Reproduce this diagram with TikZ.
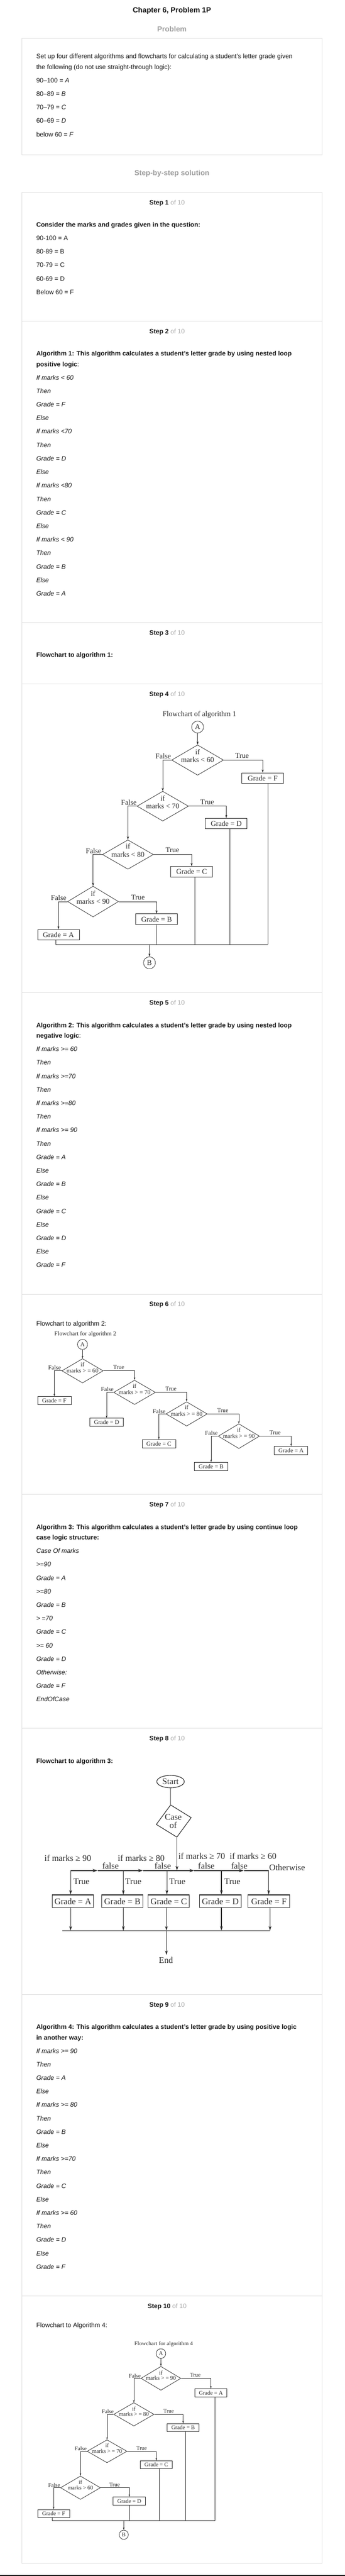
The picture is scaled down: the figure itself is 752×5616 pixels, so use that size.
\documentclass[tikz,border=0pt]{standalone}
\usepackage{fontspec}
\setmainfont{Liberation Sans}
\newfontfamily\chartserif{Liberation Serif}
\usetikzlibrary{arrows.meta,shapes.geometric,calc}
\definecolor{bord}{HTML}{DDDDDD}
\definecolor{headgray}{HTML}{9E9E9E}
\definecolor{ofgray}{HTML}{AAAAAA}
\definecolor{ink}{HTML}{161616}
\definecolor{chartink}{HTML}{2A2A2A}
\begin{document}
\begin{tikzpicture}[x=1pt,y=-1pt,
  txt/.style={anchor=base west, inner sep=0pt, text=ink, font=\fontsize{14}{17}\selectfont},
  itl/.style={txt, font=\fontsize{14}{17}\selectfont\itshape},
  bld/.style={txt, font=\fontsize{14}{17}\selectfont\bfseries},
  head/.style={anchor=base, inner sep=0pt, font=\fontsize{16}{19}\selectfont\bfseries},
  steptitle/.style={anchor=base, inner sep=0pt, text=ink, font=\fontsize{14}{17}\selectfont},
  frame/.style={draw=bord, line width=1pt},
  dia/.style={draw=chartink, shape=diamond, inner sep=0pt, line width=0.9pt},
  conn/.style={draw=chartink, shape=circle, inner sep=0pt, line width=0.9pt, text=chartink},
  c1t/.style={anchor=base, inner sep=0pt, text=chartink, font=\chartserif\fontsize{16}{18}\selectfont},
  c2t/.style={anchor=base, inner sep=0pt, text=chartink, font=\chartserif\fontsize{13}{15}\selectfont},
  c3t/.style={anchor=base, inner sep=0pt, text=chartink, font=\chartserif\fontsize{19}{21}\selectfont},
  c4t/.style={anchor=base, inner sep=0pt, text=chartink, font=\chartserif\fontsize{12.3}{14}\selectfont},
  box1/.style={draw=chartink, line width=1.1pt, inner sep=0pt, minimum width=91pt, minimum height=23pt, text=chartink, font=\chartserif\fontsize{16}{18}\selectfont},
  box2/.style={draw=chartink, line width=1pt, inner sep=0pt, minimum width=73pt, minimum height=18pt, text=chartink, font=\chartserif\fontsize{13}{15}\selectfont},
  box3/.style={draw=chartink, line width=1.3pt, inner sep=0pt, minimum width=90pt, minimum height=28pt, text=chartink, font=\chartserif\fontsize{19}{21}\selectfont},
  box4/.style={draw=chartink, line width=1pt, inner sep=0pt, minimum width=70pt, minimum height=17pt, text=chartink, font=\chartserif\fontsize{12.3}{14}\selectfont},
  flow1/.style={draw=chartink, line width=0.9pt},
  flow2/.style={draw=chartink, line width=0.8pt},
  flow3/.style={draw=chartink, line width=1.2pt},
  flow4/.style={draw=chartink, line width=0.8pt},
  thick3/.style={draw=chartink, line width=2.2pt},
  arr1/.style={flow1, -{Stealth[length=7pt, width=4.5pt]}},
  arr2/.style={flow2, -{Stealth[length=5.5pt, width=3.5pt]}},
  arr3/.style={flow3, -{Stealth[length=10pt, width=6pt]}},
  arr3h/.style={thick3, -{Stealth[length=11pt, width=7pt]}},
  arr4/.style={flow4, -{Stealth[length=5.5pt, width=3.5pt]}}
]
\useasboundingbox (0,0) rectangle (752,5616);
\fill[white] (0,0) rectangle (752,5616);
\fill[black] (0,5614) rectangle (752,5616);

% ---------------- header ----------------
\node[head, text=ink] (title) at (375,28) {Chapter 6, Problem 1P};
\node[head, text=headgray] (probhead) at (375,69) {Problem};
\draw[frame] (48,84) rectangle (703,337);
\node[txt] (p1) at (79,128) {Set up four different algorithms and flowcharts for calculating a student’s letter grade given};
\node[txt] (p2) at (79,151) {the following (do not use straight-through logic):};
\node[txt] (p3) at (79,180) {90–100 = \textit{A}};
\node[txt] (p4) at (79,209) {80–89 = \textit{B}};
\node[txt] (p5) at (79,239) {70–79 = \textit{C}};
\node[txt] (p6) at (79,268) {60–69 = \textit{D}};
\node[txt] (p7) at (79,298) {below 60 = \textit{F}};
\node[head, text=headgray] (sbs) at (375,383) {Step-by-step solution};

% ---------------- steps frame ----------------
\draw[frame] (48,419) rectangle (703,5588);
\foreach \yy in {700,1357,1491,2164,2822,3258,3768,4348,5005}
  \draw[frame] (48,\yy) -- (703,\yy);
\foreach \n/\yy in {1/446,2/727,3/1384,4/1518,5/2191,6/2848,7/3285,8/3795,9/4375,10/5032}
  \node[steptitle] (st\n) at (364.5,\yy) {\textbf{Step \n} \textcolor{ofgray}{of 10}};

% step 1
\node[bld] (s1h) at (79,495) {Consider the marks and grades given in the question:};
\foreach \t [count=\i from 0] in {90-100 = A, 80-89 = B, 70-79 = C, 60-69 = D, Below 60 = F}
  \node[txt] (s1l\i) at (79,{524+29.43*\i}) {\t};

% step 2
\node[bld] (s2h1) at (79,776) {Algorithm 1: This algorithm calculates a student’s letter grade by using nested loop};
\node[txt] (s2h2) at (79,799) {\textbf{positive logic}:};
\foreach \t [count=\i from 0] in {If marks < 60, Then, Grade = F, Else, If marks <70, Then, Grade = D, Else, If marks <80, Then, Grade = C, Else, If marks < 90, Then, Grade = B, Else, Grade = A}
  \node[itl] (a1l\i) at (79,{828+29.43*\i}) {\t};

% step 3
\node[bld] (s3h) at (79,1433) {Flowchart to algorithm 1:};

% ---------------- step 4: flowchart 1 ----------------
\node[c1t] (c1title) at (435,1562) {Flowchart of algorithm 1};
\node[conn, minimum size=26pt, font=\chartserif\fontsize{16}{18}\selectfont] (c1A) at (431,1585) {A};
\node[dia, minimum width=113pt, minimum height=66pt] (c1d1) at (431,1657) {};
\node[c1t] (c1d1a) at ([yshift=12pt]c1d1.center) {if};
\node[c1t] (c1d1b) at ([yshift=-5pt]c1d1.center) {marks < 60};
\node[c1t] (c1d1f) at (356,1654) {False};
\node[c1t] (c1d1t) at (528,1653) {True};
\node[box1] (c1bF) at (573,1696.5) {Grade = F};

\node[dia, minimum width=112pt, minimum height=65pt] (c1d2) at (355,1757.5) {};
\node[c1t] (c1d2a) at ([yshift=12pt]c1d2.center) {if};
\node[c1t] (c1d2b) at ([yshift=-5pt]c1d2.center) {marks < 70};
\node[c1t] (c1d2f) at (281,1755) {False};
\node[c1t] (c1d2t) at (452,1754) {True};
\node[box1] (c1bD) at (493.5,1795.5) {Grade = D};

\node[dia, minimum width=111pt, minimum height=64pt] (c1d3) at (279,1863) {};
\node[c1t] (c1d3a) at ([yshift=12pt]c1d3.center) {if};
\node[c1t] (c1d3b) at ([yshift=-5pt]c1d3.center) {marks < 80};
\node[c1t] (c1d3f) at (204,1860) {False};
\node[c1t] (c1d3t) at (376,1858) {True};
\node[box1] (c1bC) at (418,1900.5) {Grade = C};

\node[dia, minimum width=111pt, minimum height=67pt] (c1d4) at (203,1965.5) {};
\node[c1t] (c1d4a) at ([yshift=12pt]c1d4.center) {if};
\node[c1t] (c1d4b) at ([yshift=-5pt]c1d4.center) {marks < 90};
\node[c1t] (c1d4f) at (128,1963) {False};
\node[c1t] (c1d4t) at (301,1962) {True};
\node[box1] (c1bB) at (341.5,2004) {Grade = B};
\node[box1] (c1bA) at (127.5,2038) {Grade = A};

\node[conn, minimum size=26pt, font=\chartserif\fontsize{16}{18}\selectfont] (c1B) at (326,2099) {B};

\draw[arr1] (c1A) -- (c1d1);
\draw[arr1] (c1d1.west) -| (c1d2.north);
\draw[arr1] (c1d1.east) -| (c1bF.north);
\draw[arr1] (c1d2.west) -| (c1d3.north);
\draw[arr1] (c1d2.east) -| (c1bD.north);
\draw[arr1] (c1d3.west) -| (c1d4.north);
\draw[arr1] (c1d3.east) -| (c1bC.north);
\draw[arr1] (c1d4.west) -| (c1bA.north);
\draw[arr1] (c1d4.east) -| (c1bB.north);

\coordinate (c1mA) at (122,2059);
\coordinate (c1mB) at (341,2059);
\coordinate (c1mC) at (425,2059);
\coordinate (c1mD) at (501,2059);
\coordinate (c1mF) at (584,2059);
\coordinate (c1mid) at (326,2059);
\draw[flow1] (c1bA.south -| c1mA) -- (c1mA) -- (c1mF);
\draw[flow1] (c1bB.south -| c1mB) -- (c1mB);
\draw[flow1] (c1bC.south -| c1mC) -- (c1mC);
\draw[flow1] (c1bD.south -| c1mD) -- (c1mD);
\draw[flow1] (c1bF.south -| c1mF) -- (c1mF);
\draw[arr1] (c1mid) -- (c1B);

% step 5
\node[bld] (s5h1) at (79,2240) {Algorithm 2: This algorithm calculates a student’s letter grade by using nested loop};
\node[txt] (s5h2) at (79,2263) {\textbf{negative logic}:};
\foreach \t [count=\i from 0] in {If marks >= 60, Then, If marks >=70, Then, If marks >=80, Then, If marks >= 90, Then, Grade = A, Else, Grade = B, Else, Grade = C, Else, Grade = D, Else, Grade = F}
  \node[itl] (a2l\i) at (79,{2292+29.43*\i}) {\t};

% ---------------- step 6: flowchart 2 ----------------
\node[txt] (s6h) at (79,2890) {Flowchart to algorithm 2:};
\node[c2t] (c2title) at (186,2912) {Flowchart for algorithm 2};
\node[conn, minimum size=22pt, font=\chartserif\fontsize{13}{15}\selectfont] (c2A) at (180,2931) {A};

\node[dia, minimum width=90pt, minimum height=53pt] (c2d1) at (180,2988.5) {};
\node[c2t] (c2d1a) at ([yshift=9.5pt]c2d1.center) {if};
\node[c2t] (c2d1b) at ([yshift=-4.5pt]c2d1.center) {marks > = 60};
\node[c2t] (c2d1f) at (119,2986) {False};
\node[c2t] (c2d1t) at (259,2985) {True};
\node[box2] (c2bF) at (118.5,3053.5) {Grade = F};

\node[dia, minimum width=91pt, minimum height=53pt] (c2d2) at (293.5,3035.5) {};
\node[c2t] (c2d2a) at ([yshift=9.5pt]c2d2.center) {if};
\node[c2t] (c2d2b) at ([yshift=-4.5pt]c2d2.center) {marks > = 70};
\node[c2t] (c2d2f) at (234,3033) {False};
\node[c2t] (c2d2t) at (373,3032) {True};
\node[box2] (c2bD) at (232.5,3101) {Grade = D};

\node[dia, minimum width=90pt, minimum height=53pt] (c2d3) at (407,3082.5) {};
\node[c2t] (c2d3a) at ([yshift=9.5pt]c2d3.center) {if};
\node[c2t] (c2d3b) at ([yshift=-4.5pt]c2d3.center) {marks > = 80};
\node[c2t] (c2d3f) at (347,3081) {False};
\node[c2t] (c2d3t) at (486,3079) {True};
\node[box2] (c2bC) at (346.5,3147.5) {Grade = C};

\node[dia, minimum width=90pt, minimum height=54pt] (c2d4) at (521,3131) {};
\node[c2t] (c2d4a) at ([yshift=9.5pt]c2d4.center) {if};
\node[c2t] (c2d4b) at ([yshift=-4.5pt]c2d4.center) {marks > = 90};
\node[c2t] (c2d4f) at (461,3129) {False};
\node[c2t] (c2d4t) at (600,3128) {True};
\node[box2] (c2bB) at (460.5,3197) {Grade = B};
\node[box2] (c2bA) at (635,3162.5) {Grade = A};

\draw[arr2] (c2A) -- (c2d1);
\draw[arr2] (c2d1.west) -| (c2bF.north);
\draw[arr2] (c2d1.east) -| (c2d2.north);
\draw[arr2] (c2d2.west) -| (c2bD.north);
\draw[arr2] (c2d2.east) -| (c2d3.north);
\draw[arr2] (c2d3.west) -| (c2bC.north);
\draw[arr2] (c2d3.east) -| (c2d4.north);
\draw[arr2] (c2d4.west) -| (c2bB.north);
\draw[arr2] (c2d4.east) -| (c2bA.north);

% step 7
\node[bld] (s7h1) at (79,3334) {Algorithm 3: This algorithm calculates a student’s letter grade by using continue loop};
\node[bld] (s7h2) at (79,3357) {case logic structure:};
\foreach \t [count=\i from 0] in {Case Of marks, >=90, Grade = A, >=80, Grade = B, > =70, Grade = C, >= 60, Grade = D, Otherwise:, Grade = F, EndOfCase}
  \node[itl] (a3l\i) at (79,{3386+29.43*\i}) {\t};

% ---------------- step 8: flowchart 3 ----------------
\node[bld] (s8h) at (79,3844) {Flowchart to algorithm 3:};
\node[draw=chartink, shape=ellipse, line width=1.3pt, inner sep=0pt, minimum width=60pt, minimum height=27pt, text=chartink, font=\chartserif\fontsize{19}{21}\selectfont] (c3start) at (372,3884) {Start};
\node[dia, line width=1.3pt, minimum width=78pt, minimum height=72pt, rotate=11] (c3cof) at (379,3970) {};
\node[c3t] (c3case) at (378,3968) {Case};
\node[c3t] (c3of) at (378,3986) {of};
\draw[flow3] (c3start) -- (c3cof.north);

\coordinate (c3h0) at (154,4078);
\coordinate (c3a1) at (213,4078);
\coordinate (c3a2) at (312,4078);
\coordinate (c3a3) at (424,4078);
\coordinate (c3a4) at (532,4078);
\coordinate (c3h5) at (586,4078);
\coordinate (c3hB) at (269,4078);
\coordinate (c3hC) at (364,4078);
\coordinate (c3hD) at (483,4078);
\draw[arr3h] (c3h0) -- (c3a1);
\draw[arr3h] (c3a1) -- (c3a2);
\draw[arr3h] (c3a2) -- (c3a3);
\draw[arr3h] (c3a3) -- (c3a4);
\draw[thick3] (c3a4) -- (c3h5);
\draw[arr3] (c3cof.south) -- (c3cof.south |- c3h0);

\node[c3t] (c3l90) at (148,4057) {if marks ≥ 90};
\node[c3t] (c3l80) at (308,4057) {if marks ≥ 80};
\node[c3t] (c3l70) at (440,4053) {if marks ≥ 70};
\node[c3t] (c3l60) at (552,4053) {if marks ≥ 60};
\node[c3t] (c3f1) at (241,4074) {false};
\node[c3t] (c3f2) at (355,4074) {false};
\node[c3t] (c3f3) at (450,4074) {false};
\node[c3t] (c3f4) at (522,4074) {false};
\node[c3t, anchor=base west] (c3oth) at (587,4078) {Otherwise};

\node[box3] (c3bA) at (159,4145) {Grade = A};
\node[box3] (c3bB) at (267,4145) {Grade = B};
\node[box3] (c3bC) at (368,4145) {Grade = C};
\node[box3, minimum width=91pt] (c3bD) at (480.5,4145) {Grade = D};
\node[box3, minimum width=91pt] (c3bF) at (586.5,4145) {Grade = F};

\draw[arr3] (c3h0) -- (c3h0 |- c3bA.north);
\draw[arr3] (c3hB) -- (c3hB |- c3bB.north);
\draw[arr3] (c3hC) -- (c3hC |- c3bC.north);
\draw[arr3] (c3hD) -- (c3hD |- c3bD.north);
\draw[arr3] (c3h5) -- (c3h5 |- c3bF.north);
\node[c3t, anchor=base west] (c3t1) at (160,4108) {True};
\node[c3t, anchor=base west] (c3t2) at (273,4108) {True};
\node[c3t, anchor=base west] (c3t3) at (369,4108) {True};
\node[c3t, anchor=base west] (c3t4) at (489,4108) {True};

\coordinate (c3mL) at (136,4209);
\coordinate (c3m1) at (154,4209);
\coordinate (c3m2) at (269,4209);
\coordinate (c3m3) at (363,4209);
\coordinate (c3m4) at (483,4209);
\coordinate (c3m5) at (589,4209);
\draw[arr3] (c3bA.south -| c3m1) -- (c3m1);
\draw[arr3] (c3bB.south -| c3m2) -- (c3m2);
\draw[arr3] (c3bC.south -| c3m3) -- (c3m3);
\draw[arr3] (c3bD.south -| c3m4) -- (c3m4);
\draw[arr3] (c3bF.south -| c3m5) -- (c3m5);
\draw[flow3] (c3mL) -- (c3m5);
\node[c3t, anchor=center, inner sep=4pt] (c3end) at (362,4273) {End};
\draw[arr3] (c3m3) -- (c3m3 |- c3end.north);

% step 9
\node[bld] (s9h1) at (79,4424) {Algorithm 4: This algorithm calculates a student’s letter grade by using positive logic};
\node[bld] (s9h2) at (79,4447) {in another way:};
\foreach \t [count=\i from 0] in {If marks >= 90, Then, Grade = A, Else, If marks >= 80, Then, Grade = B, Else, If marks >=70, Then, Grade = C, Else, If marks >= 60, Then, Grade = D, Else, Grade = F}
  \node[itl] (a4l\i) at (79,{4476+29.43*\i}) {\t};

% ---------------- step 10: flowchart 4 ----------------
\node[txt] (s10h) at (79,5074) {Flowchart to Algorithm 4:};
\node[c4t] (c4title) at (357,5113) {Flowchart for algorithm 4};
\node[conn, minimum size=21pt, font=\chartserif\fontsize{12.3}{14}\selectfont] (c4A) at (351,5131) {A};

\node[dia, minimum width=87pt, minimum height=52pt] (c4d1) at (351,5185) {};
\node[c4t] (c4d1a) at ([yshift=8pt]c4d1.center) {if};
\node[c4t] (c4d1b) at ([yshift=-4pt]c4d1.center) {marks > = 90};
\node[c4t] (c4d1f) at (294,5184) {False};
\node[c4t] (c4d1t) at (426,5182) {True};
\node[box4] (c4bA) at (460,5216.5) {Grade = A};

\node[dia, minimum width=88pt, minimum height=51pt] (c4d2) at (292,5263.5) {};
\node[c4t] (c4d2a) at ([yshift=8pt]c4d2.center) {if};
\node[c4t] (c4d2b) at ([yshift=-4pt]c4d2.center) {marks > = 80};
\node[c4t] (c4d2f) at (235,5262) {False};
\node[c4t] (c4d2t) at (368,5260) {True};
\node[box4] (c4bB) at (399.5,5292.5) {Grade = B};

\node[dia, minimum width=87pt, minimum height=50pt] (c4d3) at (233.5,5344) {};
\node[c4t] (c4d3a) at ([yshift=8pt]c4d3.center) {if};
\node[c4t] (c4d3b) at ([yshift=-4pt]c4d3.center) {marks > = 70};
\node[c4t] (c4d3f) at (176,5342) {False};
\node[c4t] (c4d3t) at (309,5341) {True};
\node[box4] (c4bC) at (341,5373.5) {Grade = C};

\node[dia, minimum width=87pt, minimum height=51pt] (c4d4) at (175.5,5423.5) {};
\node[c4t] (c4d4a) at ([yshift=8pt]c4d4.center) {if};
\node[c4t] (c4d4b) at ([yshift=-4pt]c4d4.center) {marks > 60};
\node[c4t] (c4d4f) at (118,5422) {False};
\node[c4t] (c4d4t) at (250,5421) {True};
\node[box4] (c4bD) at (282,5452.5) {Grade = D};
\node[box4] (c4bF) at (117,5479.5) {Grade = F};

\node[conn, minimum size=20pt, font=\chartserif\fontsize{12.3}{14}\selectfont] (c4B) at (270,5526) {B};

\draw[arr4] (c4A) -- (c4d1);
\draw[arr4] (c4d1.west) -| (c4d2.north);
\draw[arr4] (c4d1.east) -| (c4bA.north);
\draw[arr4] (c4d2.west) -| (c4d3.north);
\draw[arr4] (c4d2.east) -| (c4bB.north);
\draw[arr4] (c4d3.west) -| (c4d4.north);
\draw[arr4] (c4d3.east) -| (c4bC.north);
\draw[arr4] (c4d4.west) -| (c4bF.north);
\draw[arr4] (c4d4.east) -| (c4bD.north);

\coordinate (c4mF) at (114,5495);
\coordinate (c4mD) at (282,5495);
\coordinate (c4mC) at (347,5495);
\coordinate (c4mB) at (405,5495);
\coordinate (c4mA) at (469,5495);
\coordinate (c4mid) at (270,5495);
\draw[flow4] (c4bF.south -| c4mF) -- (c4mF) -- (c4mA);
\draw[flow4] (c4bD.south -| c4mD) -- (c4mD);
\draw[flow4] (c4bC.south -| c4mC) -- (c4mC);
\draw[flow4] (c4bB.south -| c4mB) -- (c4mB);
\draw[flow4] (c4bA.south -| c4mA) -- (c4mA);
\draw[arr4] (c4mid) -- (c4B);
\end{tikzpicture}
\end{document}
